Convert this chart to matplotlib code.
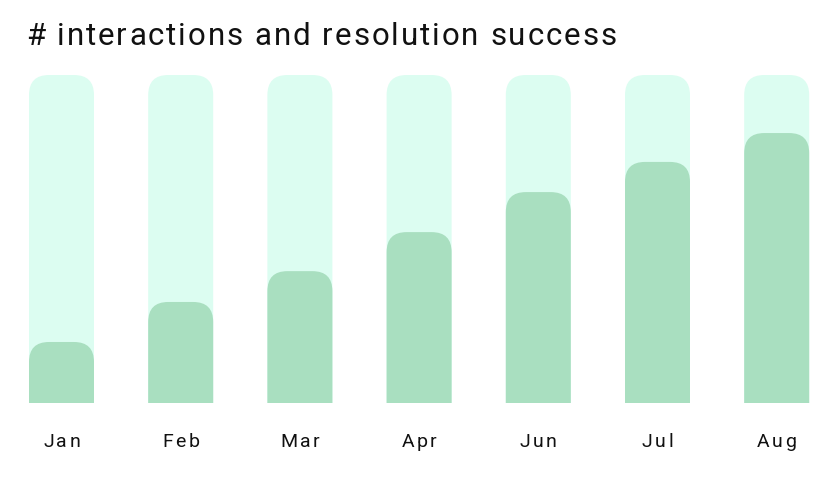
import matplotlib
matplotlib.use("Agg")
import matplotlib.pyplot as plt
from matplotlib.patches import FancyBboxPatch
from matplotlib.transforms import IdentityTransform
from matplotlib.font_manager import FontProperties, findfont, get_font

# data
months = ["Jan", "Feb", "Mar", "Apr", "Jun", "Jul", "Aug"]
resolved = [18.6, 30.8, 40.2, 52.1, 64.3, 73.5, 82.3]  # % of interactions
total = [100, 100, 100, 100, 100, 100, 100]

title = "# interactions and resolution success"

W, H = 836, 488
fig = plt.figure(figsize=(W / 100, H / 100), dpi=100)

step = 119.2   # px between bar centres
first = 61.5   # px centre of first bar
ax = fig.add_axes([0, (H - 403) / H, 1, 328 / H])
ax.set_xlim(-first / step, (W - first) / step)
ax.set_ylim(0, 100)
ax.axis("off")

bw = 65 / step
r_px = 20
rx = r_px / step
ry = r_px * 100 / 328


def rounded_bar(x, h, color):
    # rounded top, bottom hidden below the axis so it looks square
    p = FancyBboxPatch((x - bw / 2, -ry * 2), bw, h + ry * 2,
                       boxstyle="round,pad=0,rounding_size=%f" % rx,
                       mutation_aspect=ry / rx, fc=color, ec="none", lw=0)
    ax.add_patch(p)


for i in range(len(months)):
    rounded_bar(i, total[i], "#dcfdf1")
    rounded_bar(i, resolved[i], "#a9dfc0")

font_path = findfont(FontProperties(family="Roboto"))


def advances(s, size):
    f = get_font(font_path)
    f.set_size(size, 100)
    return [f.load_char(ord(c)).linearHoriAdvance / 65536 for c in s]


def spaced(s, x, y, size, track, ha="left"):
    adv = advances(s, size)
    total_w = sum(adv) + track * (len(s) - 1)
    if ha == "center":
        x = x - total_w / 2
    for c, a in zip(s, adv):
        fig.text(x, y, c, transform=IdentityTransform(), fontsize=size,
                 family="Roboto", color="#111111", va="baseline")
        x += a + track


spaced(title, 26, H - 45, 22.5, 1.95)

for i, m in enumerate(months):
    cx = ax.transData.transform((i, 0))[0]
    spaced(m, cx, H - 447, 14, 2.4, ha="center")

fig.savefig("out.png", dpi=100, facecolor="white")
